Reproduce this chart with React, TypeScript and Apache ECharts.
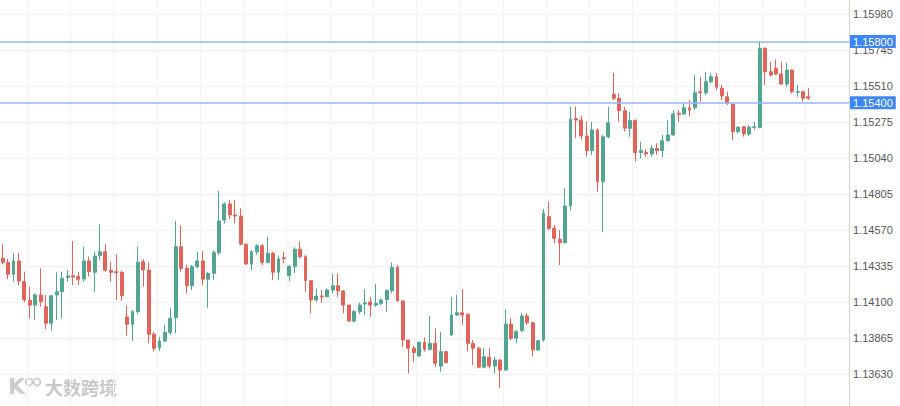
import React, { useEffect, useRef } from "react";
import * as echarts from "echarts";

// Each candle: [open, close, low, high]
const candlesA: number[][] = [
  [1.14385, 1.14359, 1.14346, 1.14477],
  [1.14357, 1.14281, 1.1425, 1.14381],
  [1.14281, 1.14368, 1.14233, 1.14418],
  [1.14368, 1.14237, 1.14211, 1.14418],
  [1.14233, 1.14115, 1.14098, 1.14298],
  [1.14111, 1.1408, 1.13994, 1.142],
  [1.1408, 1.14146, 1.13982, 1.14157],
  [1.14146, 1.14102, 1.14069, 1.1432],
  [1.14069, 1.13961, 1.13924, 1.14146],
  [1.13961, 1.14141, 1.13913, 1.14146],
  [1.14146, 1.14167, 1.13982, 1.14294],
  [1.14167, 1.14255, 1.13994, 1.14298],
  [1.14259, 1.1427, 1.14233, 1.14309],
  [1.14272, 1.14263, 1.14211, 1.14498],
  [1.14266, 1.14248, 1.14211, 1.14298],
  [1.1425, 1.14368, 1.14233, 1.14461],
  [1.14368, 1.14298, 1.14266, 1.14396],
  [1.14294, 1.144, 1.14167, 1.14428],
  [1.14402, 1.14428, 1.14374, 1.14607],
  [1.14428, 1.14307, 1.14298, 1.14477],
  [1.14307, 1.14294, 1.14233, 1.14363],
  [1.14298, 1.14291, 1.14113, 1.14413],
  [1.14294, 1.14141, 1.14107, 1.14302],
  [1.14002, 1.13955, 1.1388, 1.14076],
  [1.13955, 1.14037, 1.13845, 1.14048],
  [1.14037, 1.14359, 1.1402, 1.14461],
  [1.14363, 1.14309, 1.142, 1.14381],
  [1.14309, 1.13889, 1.1383, 1.14359],
  [1.13889, 1.13798, 1.13776, 1.13906],
  [1.13802, 1.13845, 1.13781, 1.13873],
];

const candlesB: number[][] = [
  [1.13845, 1.13902, 1.13841, 1.1395],
  [1.13902, 1.13994, 1.13885, 1.14059],
  [1.13998, 1.14461, 1.13895, 1.14629],
  [1.14461, 1.1432, 1.14298, 1.14598],
  [1.1432, 1.14206, 1.14157, 1.14342],
  [1.14206, 1.1433, 1.14178, 1.14342],
  [1.1433, 1.14368, 1.1432, 1.14428],
  [1.14368, 1.14248, 1.14211, 1.14433],
  [1.14248, 1.14287, 1.14063, 1.14298],
  [1.14287, 1.14422, 1.14244, 1.14439],
  [1.14422, 1.14629, 1.14407, 1.14825],
  [1.14635, 1.1474, 1.14613, 1.14751],
  [1.1474, 1.14668, 1.14642, 1.14766],
  [1.14668, 1.14661, 1.14613, 1.14766],
  [1.14661, 1.14477, 1.14472, 1.14712],
  [1.14477, 1.14348, 1.14342, 1.14483],
  [1.14348, 1.14428, 1.14309, 1.14439],
  [1.14428, 1.14467, 1.14407, 1.14477],
  [1.14467, 1.14359, 1.14342, 1.14477],
  [1.14359, 1.14418, 1.14352, 1.14526],
  [1.14418, 1.14294, 1.14244, 1.14428],
  [1.14294, 1.14381, 1.14244, 1.14402],
  [1.14389, 1.14383, 1.14352, 1.14428],
  [1.14272, 1.14333, 1.14237, 1.14342],
  [1.14333, 1.14444, 1.14289, 1.14457],
  [1.14444, 1.14396, 1.14385, 1.14493],
  [1.14396, 1.14239, 1.14167, 1.14407],
  [1.14239, 1.14113, 1.14026, 1.14244],
  [1.14113, 1.14139, 1.14102, 1.14189],
  [1.14139, 1.14134, 1.14095, 1.14178],
];

const candlesC: number[][] = [
  [1.14134, 1.14178, 1.14131, 1.14189],
  [1.14178, 1.14206, 1.14157, 1.14283],
  [1.14206, 1.14172, 1.14134, 1.14287],
  [1.14172, 1.1408, 1.14026, 1.14178],
  [1.1408, 1.13976, 1.13971, 1.1408],
  [1.13976, 1.14037, 1.13965, 1.14048],
  [1.14037, 1.1408, 1.14022, 1.14095],
  [1.14087, 1.14095, 1.14015, 1.14183],
  [1.141, 1.1408, 1.14004, 1.14134],
  [1.1408, 1.14091, 1.14069, 1.14218],
  [1.14091, 1.14113, 1.1408, 1.14124],
  [1.14116, 1.14174, 1.14037, 1.14183],
  [1.14174, 1.14326, 1.14157, 1.14357],
  [1.14326, 1.14107, 1.14102, 1.14342],
  [1.14107, 1.13852, 1.13808, 1.14113],
  [1.13852, 1.13798, 1.13634, 1.13852],
  [1.13798, 1.13769, 1.1371, 1.13813],
  [1.13747, 1.13837, 1.13743, 1.13841],
  [1.13837, 1.13791, 1.13776, 1.13869],
  [1.13791, 1.1383, 1.13785, 1.14009],
  [1.1383, 1.137, 1.13678, 1.13928],
  [1.13682, 1.13776, 1.13645, 1.13906],
  [1.13776, 1.13704, 1.137, 1.1378],
  [1.13885, 1.14015, 1.13878, 1.14131],
  [1.14015, 1.1403, 1.14009, 1.14146],
  [1.1403, 1.14015, 1.1395, 1.14183],
  [1.1402, 1.1383, 1.13776, 1.14026],
  [1.1383, 1.13798, 1.13689, 1.13852],
  [1.13798, 1.13674, 1.13667, 1.13808],
  [1.13674, 1.13743, 1.13667, 1.13798],
];

const candlesD: number[][] = [
  [1.13739, 1.13682, 1.13667, 1.13798],
  [1.13682, 1.13721, 1.13634, 1.13743],
  [1.13721, 1.13656, 1.13537, 1.13726],
  [1.13656, 1.13956, 1.13651, 1.14052],
  [1.13956, 1.13863, 1.13852, 1.13994],
  [1.13863, 1.13906, 1.1383, 1.13917],
  [1.13913, 1.14009, 1.13906, 1.1403],
  [1.14009, 1.13965, 1.1395, 1.14026],
  [1.13965, 1.13787, 1.13743, 1.13971],
  [1.13787, 1.13847, 1.13782, 1.13852],
  [1.13852, 1.14681, 1.13841, 1.14707],
  [1.14657, 1.14581, 1.1457, 1.14755],
  [1.14581, 1.14516, 1.14483, 1.14603],
  [1.14509, 1.14487, 1.14342, 1.1457],
  [1.14487, 1.14727, 1.14483, 1.14842],
  [1.14727, 1.15293, 1.14697, 1.15376],
  [1.15297, 1.15288, 1.15169, 1.15375],
  [1.15288, 1.15184, 1.15158, 1.15314],
  [1.15184, 1.15088, 1.15049, 1.15277],
  [1.15088, 1.15223, 1.1506, 1.15277],
  [1.15223, 1.14885, 1.1482, 1.15234],
  [1.14885, 1.15179, 1.14559, 1.1519],
  [1.15179, 1.1527, 1.15169, 1.15375],
  [1.15456, 1.1543, 1.15419, 1.15597],
  [1.1543, 1.15349, 1.15277, 1.15462],
  [1.15349, 1.15234, 1.15212, 1.15375],
  [1.15234, 1.15284, 1.15179, 1.15342],
  [1.15284, 1.15075, 1.15016, 1.15293],
  [1.15075, 1.15088, 1.15038, 1.15146],
  [1.15077, 1.15066, 1.15049, 1.15097],
];

const candlesE: number[][] = [
  [1.15066, 1.15103, 1.15049, 1.15125],
  [1.15103, 1.15088, 1.1506, 1.15136],
  [1.15088, 1.15153, 1.15045, 1.1519],
  [1.15153, 1.1519, 1.15146, 1.15288],
  [1.1519, 1.15327, 1.15184, 1.15353],
  [1.15332, 1.15325, 1.15277, 1.15353],
  [1.15327, 1.15368, 1.15321, 1.15401],
  [1.15368, 1.15353, 1.1531, 1.15419],
  [1.15368, 1.15466, 1.15353, 1.15582],
  [1.15473, 1.15466, 1.15408, 1.15571],
  [1.15466, 1.15538, 1.15451, 1.15603],
  [1.15538, 1.15571, 1.15527, 1.15593],
  [1.15571, 1.15502, 1.15484, 1.15593],
  [1.15495, 1.15445, 1.15419, 1.15517],
  [1.1544, 1.15397, 1.15386, 1.15473],
  [1.15392, 1.15212, 1.15158, 1.15397],
  [1.15212, 1.1524, 1.15201, 1.15249],
  [1.15244, 1.15197, 1.15179, 1.15249],
  [1.15197, 1.1524, 1.15184, 1.15255],
  [1.1524, 1.15244, 1.15223, 1.15277],
  [1.1524, 1.15756, 1.15234, 1.15799],
  [1.15756, 1.15603, 1.15516, 1.15763],
  [1.15603, 1.15582, 1.15571, 1.15669],
  [1.15625, 1.15588, 1.15582, 1.15684],
  [1.15588, 1.15523, 1.15516, 1.15669],
  [1.15523, 1.15614, 1.15505, 1.15662],
  [1.15614, 1.15473, 1.15462, 1.15619],
  [1.15469, 1.15473, 1.1544, 1.15517],
  [1.15473, 1.1543, 1.15408, 1.15479],
  [1.1544, 1.1543, 1.15419, 1.15497],
];

const levelLines = [1.158, 1.154];
const yMin = 1.13395;
const yMax = 1.16215;
const yStep = 0.00235;
const slotCount = 157;

const candles = [...candlesA, ...candlesB, ...candlesC, ...candlesD, ...candlesE];
const categories = Array.from({ length: slotCount }, (_, i) => String(i + 1));

const UP = "#52a590";
const DOWN = "#e1645a";

export default function App() {
  const ref = useRef<HTMLDivElement>(null);

  useEffect(() => {
    document.body.style.margin = "0";
    if (!ref.current) return;
    const chart = echarts.init(ref.current, null, { renderer: "svg" });
    chart.setOption({
      animation: false,
      backgroundColor: "#ffffff",
      grid: {
        left: 0,
        right: 51,
        top: -22,
        bottom: -4,
        containLabel: false,
        outerBoundsMode: "none",
      },
      xAxis: {
        type: "category",
        data: categories,
        boundaryGap: true,
        axisLine: { show: false },
        axisTick: { show: false },
        axisLabel: { show: false },
        splitLine: {
          show: true,
          interval: (i: number) => i % 8 === 5,
          lineStyle: { color: "#f4f4f4", width: 1 },
        },
      },
      yAxis: {
        type: "value",
        position: "right",
        min: yMin,
        max: yMax,
        interval: yStep,
        axisLine: { show: true, lineStyle: { color: "#d4d6da", width: 1 } },
        axisTick: { show: false },
        axisLabel: {
          show: true,
          margin: 4,
          color: "#555555",
          fontSize: 11,
          fontFamily: "'Liberation Sans', Arial, sans-serif",
          showMinLabel: false,
          showMaxLabel: false,
          formatter: (v: number) => v.toFixed(5),
        },
        splitLine: { show: true, lineStyle: { color: "#f1f1f1", width: 1 } },
      },
      series: [
        {
          type: "candlestick",
          data: candles,
          barWidth: 3.4,
          itemStyle: {
            color: UP,
            color0: DOWN,
            borderColor: UP,
            borderColor0: DOWN,
            borderWidth: 1,
          },
          markLine: {
            silent: true,
            precision: 5,
            symbol: ["none", "none"],
            lineStyle: { color: "#94b8f2", width: 1.5, type: "solid" },
            label: {
              show: true,
              position: "end",
              distance: 1,
              formatter: (p: any) => Number(p.value).toFixed(5),
              backgroundColor: "#3d86f5",
              color: "#ffffff",
              fontSize: 11,
              fontFamily: "'Liberation Sans', Arial, sans-serif",
              padding: [1, 3, 1, 3],
            },
            data: levelLines.map((v) => ({ yAxis: v })),
          },
        },
      ],
      graphic: [
        {
          type: "text",
          left: 8,
          top: 375,
          style: {
            text: "K",
            fill: "#cccccc",
            font: "bold 22px 'DejaVu Sans', sans-serif",
          },
        },
        {
          type: "circle",
          shape: { cx: 29, cy: 382, r: 3.5 },
          style: { fill: "none", stroke: "#cccccc", lineWidth: 1.6 },
        },
        {
          type: "circle",
          shape: { cx: 37, cy: 382, r: 3.5 },
          style: { fill: "none", stroke: "#cccccc", lineWidth: 1.6 },
        },
        {
          type: "text",
          left: 45,
          top: 378,
          style: {
            text: "大数跨境",
            fill: "#c8c8c8",
            font: "bold 18px 'Noto Sans CJK SC', sans-serif",
          },
        },
      ],
    });
    return () => chart.dispose();
  }, []);

  return <div ref={ref} style={{ width: 900, height: 406 }} />;
}
